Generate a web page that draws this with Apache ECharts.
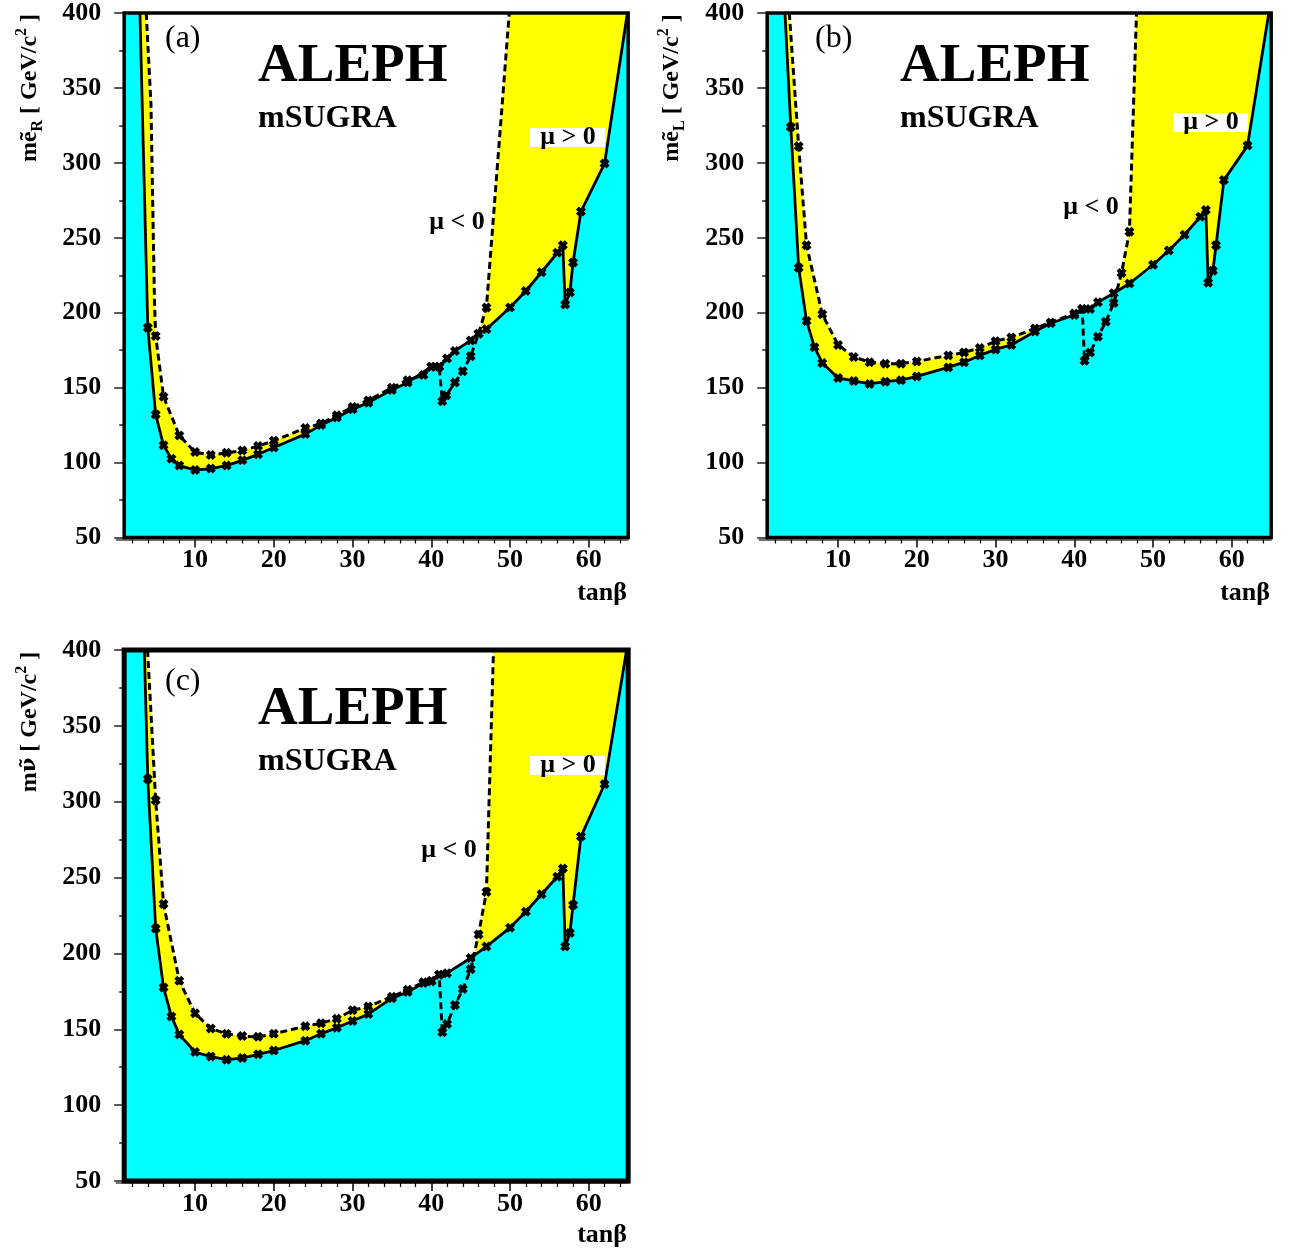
<!DOCTYPE html>
<html><head><meta charset="utf-8">
<script src="https://cdn.jsdelivr.net/npm/echarts@6/dist/echarts.min.js"></script>
<style>html,body{margin:0;padding:0;background:#fff}#c{width:1300px;height:1253px}</style>
</head><body><div id="c"></div>
<script>
// ---------- axis ticks ----------
const xMajorTicks = [10, 20, 30, 40, 50, 60];
const xMinorTicks = [2, 4, 6, 8, 12, 14, 16, 18, 22, 24, 26, 28, 32, 34, 36, 38, 42, 44, 46, 48, 52, 54, 56, 58, 62, 64];
const yRange = [50, 400];
const xDataRange = [1, 65];
const xAxisRange = [0, 65];

// ---------- panel (a): m(selectron R) ----------
const aSolidTop = [[3.0, 400]];
const aSolid = [[4,190],[5,132],[6,111.5],[7,102.5],[8,98],[10,95],[12,96],[14,98],[16,101.5],[18,105.5],[20,110],[24,119],[26,125],[28,130],[30,135.5],[32,140],[35,148.5],[37,153.5],[40,164],[41,164],[42,169.5],[43,174.5],[45,181.5],[46,186],[47,189],[50,203.5],[52,214.5],[54,227],[56,240],[56.7,245],[57,205.5],[57.6,213.5],[58,233.5],[59,267.5],[62,299.5]];
const aSolidEnd = [[64.9, 400]];
const aDashTop = [[3.8, 400], [4.4, 339], [4.85, 207]];
const aDashed = [[5,184.5],[6,144],[8,118],[10,107],[12,105],[14,106.5],[16,108],[18,111],[20,114.5],[24,123],[26,126],[28,131.5],[30,137],[32,141.5],[35,150],[37,155],[39,158.5],[40,164],[41,164],[41.4,141],[41.9,145],[43,153.5],[44,161],[45,171],[46,186],[47,203.5]];
const aDashEnd = [[49.9, 400]];

// ---------- panel (b): m(selectron L) ----------
const bSolidTop = [[3.26, 400]];
const bSolid = [[4,324],[5,230],[6,194.5],[7,177],[8,166.5],[10,156.5],[12,154.5],[14,152.5],[16,154],[18,155],[20,157.5],[24,163.5],[26,167],[28,171.5],[30,175.5],[32,178.5],[35,187.5],[37,193],[40,198.5],[41,202.5],[42,202.5],[43,207],[45,213],[47,219.5],[50,232],[52,241.5],[54,252],[56,264],[56.7,268.5],[57,220],[57.6,228],[58,245],[59,288.5],[62,311.5]];
const bSolidEnd = [[64.7, 400]];
const bDashTop = [[3.81, 400]];
const bDashed = [[5,311],[6,245],[8,199],[10,178.5],[12,170.5],[14,167],[16,166],[18,166],[20,167.5],[24,171.5],[26,173.5],[28,176.5],[30,181],[32,183.5],[35,189.5],[37,193.5],[40,199.5],[41,202.5],[41.3,168],[42,173.5],[43,184],[44,194],[45,206.5],[46,226.5],[47,254]];
const bDashEnd = [[47.9, 400]];

// ---------- panel (c): m(sneutrino) ----------
const cSolidTop = [[3.56, 400]];
const cSolid = [[4,315],[5,216.5],[6,177.5],[7,158.5],[8,146.5],[10,135],[12,132],[14,130],[16,131],[18,133.5],[20,136],[24,142.5],[26,147],[28,151],[30,155.5],[32,160],[35,170.5],[37,174.5],[39,180.5],[40,181.5],[41,186],[42,187],[45,197],[47,204.5],[50,217],[52,227.5],[54,239],[56,250.5],[56.7,256],[57,204.5],[57.6,213.5],[58,232],[59,277],[62,311.5]];
const cSolidEnd = [[64.8, 400]];
const cDashTop = [[3.97, 400]];
const cDashed = [[5,301],[6,232.5],[8,182],[10,160.5],[12,150.5],[14,147],[16,145.5],[18,145],[20,147],[24,152],[26,154],[28,157],[30,162.5],[32,165],[35,171.5],[37,176],[39,181],[40,182],[41,186],[41.4,148],[42,153.5],[43,166],[44,176.5],[45,189.5],[46,212.5],[47,240.5]];
const cDashEnd = [[47.9, 400]];

// ---------- layout ----------
const UNIT = 7.875; // px per unit of tan(beta)
const SERIF = '"Liberation Serif", "Times New Roman", serif';
const panels = [
  { L: 116.3, T: 7.5, H: 530, bw: 3.5, solidTop: aSolidTop, solid: aSolid, solidEnd: aSolidEnd, dashTop: aDashTop, dashed: aDashed, dashEnd: aDashEnd },
  { L: 759.3, T: 7.5, H: 530, bw: 3.5, solidTop: bSolidTop, solid: bSolid, solidEnd: bSolidEnd, dashTop: bDashTop, dashed: bDashed, dashEnd: bDashEnd },
  { L: 116.3, T: 650, H: 531, bw: 5,   solidTop: cSolidTop, solid: cSolid, solidEnd: cSolidEnd, dashTop: cDashTop, dashed: cDashed, dashEnd: cDashEnd }
];

const XSYM = 'path://M0,3L3,0L5,2L7,0L10,3L8,5L10,7L7,10L5,8L3,10L0,7L2,5Z';

const grid = [], xAxis = [], yAxis = [], series = [];
const noSym = p => ({ value: p, symbol: 'none' });

panels.forEach((p, i) => {
  const gData = grid.length;
  grid.push({ left: p.L + (xDataRange[0] - xAxisRange[0]) * UNIT, top: p.T,
              width: (xDataRange[1] - xDataRange[0]) * UNIT, height: p.H,
              show: true, z: 10, backgroundColor: 'transparent', borderColor: '#000', borderWidth: p.bw });
  const gAxis = grid.length;
  grid.push({ left: p.L, top: p.T, width: (xAxisRange[1] - xAxisRange[0]) * UNIT, height: p.H });

  const xData = xAxis.length;
  xAxis.push({ type: 'value', gridIndex: gData, min: xDataRange[0], max: xDataRange[1], show: false });
  xAxis.push({ type: 'value', gridIndex: gAxis, min: xAxisRange[0], max: xAxisRange[1], interval: 10, position: 'bottom', offset: 2,
    axisLine: { show: true, lineStyle: { color: '#444', width: 1.5 } },
    axisTick: { show: true, inside: false, length: 8, customValues: xMajorTicks, lineStyle: { color: '#000', width: 1.5 } },
    axisLabel: { show: true, customValues: xMajorTicks, margin: 8, color: '#000', fontFamily: SERIF, fontWeight: 'bold', fontSize: 26 },
    splitLine: { show: false } });
  xAxis.push({ type: 'value', gridIndex: gAxis, min: xAxisRange[0], max: xAxisRange[1], interval: 2, position: 'bottom', offset: 2,
    axisLine: { show: false },
    axisTick: { show: true, inside: false, length: 4, customValues: xMinorTicks, lineStyle: { color: '#000', width: 1.2 } },
    axisLabel: { show: false }, splitLine: { show: false } });

  const yData = yAxis.length;
  yAxis.push({ type: 'value', gridIndex: gData, min: yRange[0], max: yRange[1], interval: 50, position: 'left',
    axisLine: { show: false },
    axisTick: { show: true, inside: false, length: 10, lineStyle: { color: '#222', width: 1.5 } },
    minorTick: { show: true, splitNumber: 2, length: 5, lineStyle: { color: '#222', width: 1.5 } },
    axisLabel: { margin: 23, color: '#000', fontFamily: SERIF, fontWeight: 'bold', fontSize: 26 },
    splitLine: { show: false } });
  yAxis.push({ type: 'value', gridIndex: gAxis, min: yRange[0], max: yRange[1], show: false });

  const base = { type: 'line', xAxisIndex: xData, yAxisIndex: yData, animation: false, silent: true };
  series.push(Object.assign({}, base, {
    data: [[xDataRange[0], yRange[1]], ...p.dashTop, ...p.dashed, ...p.dashEnd, [xDataRange[1], yRange[1]]],
    symbol: 'none', lineStyle: { width: 0 }, areaStyle: { color: '#ffff00', opacity: 1, origin: 'start' }, z: 1 }));
  series.push(Object.assign({}, base, {
    data: [[xDataRange[0], yRange[1]], ...p.solidTop, ...p.solid, ...p.solidEnd, [xDataRange[1], yRange[1]]],
    symbol: 'none', lineStyle: { width: 0 }, areaStyle: { color: '#00ffff', opacity: 1, origin: 'start' }, z: 2 }));
  series.push(Object.assign({}, base, {
    data: [...p.dashTop.map(noSym), ...p.dashed, ...p.dashEnd.map(noSym)],
    symbol: XSYM, symbolSize: 10, itemStyle: { color: '#000' },
    lineStyle: { color: '#000', width: 3, type: [7, 4] }, z: 3 }));
  series.push(Object.assign({}, base, {
    data: [...p.solidTop.map(noSym), ...p.solid, ...p.solidEnd.map(noSym)],
    symbol: XSYM, symbolSize: 10, itemStyle: { color: '#000' },
    lineStyle: { color: '#000', width: 2.8 }, z: 4 }));
});

// ---------- texts ----------
function txt(x, y, text, size, weight, align, extra) {
  return Object.assign({ type: 'text', x: x, y: y, z: 100,
    style: { text: text, fill: '#000', font: (weight || 'bold') + ' ' + size + 'px ' + SERIF,
             align: align || 'left', textAlign: align || 'left', verticalAlign: 'middle', textVerticalAlign: 'middle' } }, extra || {});
}
function yTitle(x, y, mainTok, sub) {
  const rich = {
    m: { fontFamily: SERIF, fontWeight: 'bold', fontSize: 24, fill: '#000' },
    g: { fontFamily: '"DejaVu Serif", serif', fontWeight: 'bold', fontSize: 21, fill: '#000' },
    s: { fontFamily: SERIF, fontWeight: 'bold', fontSize: 16, padding: [15, 0, 0, 0], fill: '#000' },
    p: { fontFamily: SERIF, fontWeight: 'bold', fontSize: 16, padding: [0, 0, 17, 0], fill: '#000' }
  };
  const t = mainTok + (sub ? '{s|' + sub + '}' : '') + '{m| [ GeV/c}{p|2}{m| ]}';
  return { type: 'text', x: x, y: y, rotation: Math.PI / 2, z: 100,
    style: { text: t, rich: rich, fill: '#000', font: 'bold 24px ' + SERIF,
             align: 'center', textAlign: 'center', verticalAlign: 'middle', textVerticalAlign: 'middle' } };
}
function muBox(x, y, w, h) {
  return { type: 'rect', z: 99, shape: { x: x, y: y, width: w, height: h }, style: { fill: '#fff' } };
}
const graphic = [
  // panel (a)
  txt(165, 39, '(a)', 32, 'normal'),
  txt(258, 67, 'ALEPH', 55),
  txt(258, 119, 'mSUGRA', 32),
  muBox(530, 128, 75, 19), txt(568, 137, 'μ > 0', 26, 'bold', 'center'),
  txt(457, 222, 'μ < 0', 26, 'bold', 'center'),
  yTitle(30, 88, '{m|mẽ}', 'R'),
  txt(627, 593, 'tanβ', 26, 'bold', 'right'),
  // panel (b)
  txt(815, 39, '(b)', 32, 'normal'),
  txt(900, 67, 'ALEPH', 55),
  txt(900, 119, 'mSUGRA', 32),
  muBox(1173, 113, 75, 19), txt(1211, 122, 'μ > 0', 26, 'bold', 'center'),
  txt(1091, 207, 'μ < 0', 26, 'bold', 'center'),
  yTitle(672, 88, '{m|mẽ}', 'L'),
  txt(1270, 593, 'tanβ', 26, 'bold', 'right'),
  // panel (c)
  txt(165, 682, '(c)', 32, 'normal'),
  txt(258, 710, 'ALEPH', 55),
  txt(258, 762, 'mSUGRA', 32),
  muBox(530, 756, 75, 19), txt(568, 765, 'μ > 0', 26, 'bold', 'center'),
  txt(449, 850, 'μ < 0', 26, 'bold', 'center'),
  yTitle(30, 722, '{m|m}{g|ν̃}', ''),
  txt(627, 1235, 'tanβ', 26, 'bold', 'right')
];

const chart = echarts.init(document.getElementById('c'), null, { renderer: 'canvas' });
chart.setOption({ animation: false, backgroundColor: '#fff', grid: grid, xAxis: xAxis, yAxis: yAxis, series: series, graphic: graphic });
</script></body></html>
